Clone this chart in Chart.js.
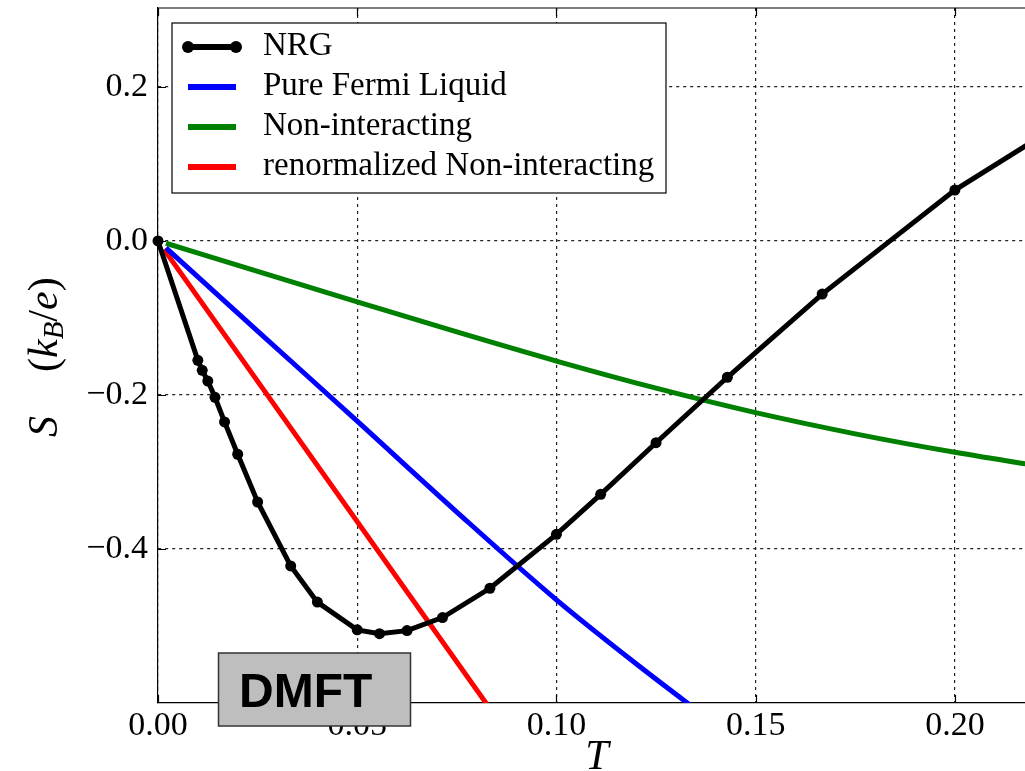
<!DOCTYPE html>
<html>
<head>
<meta charset="utf-8">
<script src="https://cdn.jsdelivr.net/npm/chart.js@4"></script>
<style>
  body { margin: 0; background: #fff; }
  #wrap { width: 1025px; height: 771px; }
</style>
</head>
<body>
<div id="wrap"><canvas id="seebeck" width="1025" height="771"></canvas></div>
<script>
// NRG points (T = 1/n)
const nrgT = [0, 0.01, 0.0111, 0.0125, 0.0143, 0.0167, 0.02, 0.025, 0.0333, 0.04, 0.05, 0.0556, 0.0625, 0.0714, 0.0833, 0.1, 0.1111, 0.125, 0.1429, 0.1667, 0.2, 0.25];
const nrgS = [0, -0.155, -0.168, -0.182, -0.203, -0.235, -0.277, -0.339, -0.422, -0.469, -0.505, -0.510, -0.506, -0.489, -0.451, -0.381, -0.329, -0.262, -0.177, -0.069, 0.066, 0.228];

const fermiT = [0.002, 0.025, 0.05, 0.075, 0.1, 0.12, 0.14];
const fermiS = [-0.009, -0.117, -0.234, -0.352, -0.466, -0.549, -0.628];

const nonIntT = [0.002, 0.025, 0.05, 0.075, 0.1, 0.125, 0.15, 0.175, 0.2, 0.225];
const nonIntS = [-0.003, -0.0395, -0.079, -0.1182, -0.156, -0.1912, -0.223, -0.2505, -0.2745, -0.2955];

const renormT = [0.0015, 0.09];
const renormS = [-0.011, -0.656];

const xTicks = [0, 0.05, 0.10, 0.15, 0.20];
const yTicks = [-0.4, -0.2, 0.0, 0.2];

const serif = '"Liberation Serif", "Times New Roman", serif';

function pts(xs, ys) {
    return xs.map((x, i) => ({ x: x, y: ys[i] }));
}

// frame top edge + inward tick marks
const framePlugin = {
    id: 'frame',
    beforeDatasetsDraw(chart) {
        const ctx = chart.ctx;
        const a = chart.chartArea;
        const xs = chart.scales.x, ys = chart.scales.y;
        ctx.save();
        ctx.strokeStyle = '#000';
        ctx.lineWidth = 1.2;
        ctx.beginPath();
        ctx.moveTo(a.left, a.top);
        ctx.lineTo(a.right + 2, a.top);
        xTicks.forEach(v => {
            const px = Math.round(xs.getPixelForValue(v)) + 0.5;
            ctx.moveTo(px, a.bottom);
            ctx.lineTo(px, a.bottom - 8);
            ctx.moveTo(px, a.top);
            ctx.lineTo(px, a.top + 8);
        });
        yTicks.forEach(v => {
            const py = Math.round(ys.getPixelForValue(v)) + 0.5;
            ctx.moveTo(a.left, py);
            ctx.lineTo(a.left + 8, py);
        });
        ctx.stroke();
        ctx.restore();
    }
};

// legend box, axis titles and the DMFT tag
const overlayPlugin = {
    id: 'overlay',
    afterDraw(chart) {
        const ctx = chart.ctx;
        ctx.save();

        // legend
        ctx.fillStyle = '#fff';
        ctx.fillRect(172, 23, 494, 170);
        ctx.strokeStyle = '#000';
        ctx.lineWidth = 1.2;
        ctx.strokeRect(172, 23, 494, 170);
        ctx.font = '33px ' + serif;
        ctx.textBaseline = 'alphabetic';
        chart.data.datasets.forEach((ds, i) => {
            const yc = 47 + i * 40;
            ctx.strokeStyle = ds.borderColor;
            ctx.lineWidth = 6;
            ctx.beginPath();
            ctx.moveTo(188, yc);
            ctx.lineTo(236, yc);
            ctx.stroke();
            if (ds.pointRadius > 0) {
                ctx.fillStyle = ds.borderColor;
                [188, 236].forEach(px => {
                    ctx.beginPath();
                    ctx.arc(px, yc, 6, 0, Math.PI * 2);
                    ctx.fill();
                });
            }
            ctx.fillStyle = '#000';
            ctx.fillText(ds.label, 263, yc + 8);
        });

        // y title: S  (k_B/e)
        const f = 42;
        ctx.fillStyle = '#000';
        ctx.translate(57, 437);
        ctx.rotate(-Math.PI / 2);
        let x = 0;
        const put = (s, font, dy) => {
            ctx.font = font;
            ctx.fillText(s, x, dy || 0);
            x += ctx.measureText(s).width;
        };
        put('S', 'italic ' + f + 'px ' + serif);
        x = 65;
        put('(', f + 'px ' + serif);
        put('k', 'italic ' + f + 'px ' + serif);
        put('B', 'italic ' + Math.round(f * 0.7) + 'px ' + serif, f * 0.15);
        put('/', f + 'px ' + serif);
        put('e', 'italic ' + f + 'px ' + serif);
        put(')', f + 'px ' + serif);
        ctx.setTransform(1, 0, 0, 1, 0, 0);

        // x title
        ctx.font = 'italic ' + f + 'px ' + serif;
        ctx.textAlign = 'center';
        ctx.fillText('T', 597, 769);

        // DMFT tag
        ctx.fillStyle = '#bebebe';
        ctx.fillRect(218.5, 653, 192, 73);
        ctx.strokeStyle = '#333';
        ctx.lineWidth = 1.5;
        ctx.strokeRect(218.5, 653, 192, 73);
        ctx.fillStyle = '#000';
        ctx.textAlign = 'left';
        ctx.font = 'bold 48px "Liberation Sans", Arial, sans-serif';
        ctx.fillText('DMFT', 239, 707);

        ctx.restore();
    }
};

const ctx = document.getElementById('seebeck').getContext('2d');
const seebeckChart = new Chart(ctx, {
    type: 'line',
    data: {
        datasets: [
            {
                label: 'NRG',
                data: pts(nrgT, nrgS),
                borderColor: '#000000',
                backgroundColor: '#000000',
                borderWidth: 5,
                pointRadius: 5.5,
                pointBorderWidth: 0,
                pointBackgroundColor: '#000000',
                tension: 0,
                clip: { left: 6, top: 0, right: 0, bottom: 0 }
            },
            {
                label: 'Pure Fermi Liquid',
                data: pts(fermiT, fermiS),
                borderColor: '#0000ff',
                borderWidth: 5,
                pointRadius: 0,
                cubicInterpolationMode: 'monotone',
                clip: 0
            },
            {
                label: 'Non-interacting',
                data: pts(nonIntT, nonIntS),
                borderColor: '#008000',
                borderWidth: 5,
                pointRadius: 0,
                cubicInterpolationMode: 'monotone',
                clip: 0
            },
            {
                label: 'renormalized Non-interacting',
                data: pts(renormT, renormS),
                borderColor: '#ff0000',
                borderWidth: 5,
                pointRadius: 0,
                clip: 0
            }
        ]
    },
    options: {
        responsive: false,
        animation: false,
        events: [],
        layout: { autoPadding: false, padding: { top: 8, left: 0, right: 0, bottom: 0 } },
        scales: {
            x: {
                type: 'linear',
                min: 0,
                max: 0.2176,
                afterBuildTicks: axis => { axis.ticks = xTicks.map(v => ({ value: v })); },
                afterFit: s => { s.height = 68; s.paddingLeft = 0; s.paddingRight = 0; },
                grid: { color: '#222', lineWidth: 1.2, drawTicks: false },
                border: { color: '#000', width: 1.2, dash: [3, 4] },
                ticks: {
                    padding: 3,
                    color: '#000',
                    maxRotation: 0,
                    font: { family: serif, size: 34, lineHeight: 1.2 },
                    callback: v => v.toFixed(2)
                }
            },
            y: {
                type: 'linear',
                min: -0.6,
                max: 0.3025,
                afterBuildTicks: axis => { axis.ticks = yTicks.map(v => ({ value: v })); },
                afterFit: s => { s.width = 158; s.paddingTop = 0; s.paddingBottom = 0; },
                grid: { color: '#222', lineWidth: 1.2, drawTicks: false },
                border: { color: '#000', width: 1.2, dash: [3, 4] },
                ticks: {
                    padding: 10,
                    color: '#000',
                    font: { family: serif, size: 34, lineHeight: 1.2 },
                    callback: v => (Math.abs(v) < 1e-9 ? '0.0' : (v < 0 ? '\u2212' : '') + Math.abs(v).toFixed(1))
                }
            }
        },
        plugins: {
            legend: { display: false },
            tooltip: { enabled: false },
            title: { display: false }
        }
    },
    plugins: [framePlugin, overlayPlugin]
});
</script>
</body>
</html>
